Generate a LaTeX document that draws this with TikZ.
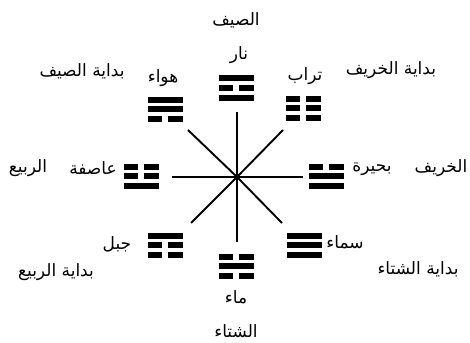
\documentclass[tikz,border=0pt]{standalone}
\usepackage{fontspec}
\newfontfamily\arabicfont[Script=Arabic]{DejaVu Sans}
\TeXXeTstate=1
\newcommand\tgbar[2]{%
  \ifnum#1=1
    \fill (-17.5,#2) rectangle (17.5,#2+6);
  \else
    \fill (-17.5,#2) rectangle (-3,#2+6);
    \fill (3,#2) rectangle (17.5,#2+6);
  \fi}
\tikzset{
  pics/trigram/.style n args={3}{code={
    \tgbar{#1}{-12.5}
    \tgbar{#2}{-3}
    \tgbar{#3}{6.5}
    \coordinate (-c) at (0,0);
  }},
  lbl/.style={inner sep=0pt, font=\arabicfont\fontsize{17}{19}\selectfont},
  ray/.style={line width=1.9pt, draw=black}
}
\begin{document}
\begin{tikzpicture}[x=1pt,y=-1pt]
\useasboundingbox (0,0) rectangle (470,342);
\fill[white] (0,0) rectangle (470,342);
% rays
\coordinate (o) at (237,177);
\coordinate (n) at (237,112);
\coordinate (s) at (237,242);
\coordinate (w) at (172,177);
\coordinate (e) at (303,177);
\coordinate (nw) at (188,130);
\coordinate (ne) at (283,130);
\coordinate (sw) at (191,223);
\coordinate (se) at (282,223);
\foreach \p in {n,s,w,e,nw,ne,sw,se} \draw[ray] (o) -- (\p);
% trigrams (1 solid, 0 broken; top to bottom)
\pic (fire) at (236,88) {trigram={1}{0}{1}};
\pic (wind) at (165,109) {trigram={1}{1}{0}};
\pic (earth) at (303,108) {trigram={0}{0}{0}};
\pic (thunder) at (141,176) {trigram={0}{0}{1}};
\pic (lake) at (326,176) {trigram={0}{1}{1}};
\pic (mountain) at (165,245) {trigram={1}{0}{0}};
\pic (heaven) at (304,245) {trigram={1}{1}{1}};
\pic (water) at (236,266) {trigram={0}{1}{0}};
% labels
\node[lbl] (summer) at (236,20) {\beginR الصيف\endR};
\node[lbl] (fireL) at (239,55) {\beginR نار\endR};
\node[lbl] (bsummer) at (82,71) {\beginR بداية الصيف\endR};
\node[lbl] (windL) at (163,78) {\beginR هواء\endR};
\node[lbl] (earthL) at (305,76) {\beginR تراب\endR};
\node[lbl] (bautumn) at (391,70) {\beginR بداية الخريف\endR};
\node[lbl] (thunderL) at (93,168) {\beginR عاصفة\endR};
\node[lbl] (spring) at (28,168) {\beginR الربيع\endR};
\node[lbl] (lakeL) at (372,169) {\beginR بحيرة\endR};
\node[lbl] (autumn) at (441,168) {\beginR الخريف\endR};
\node[lbl] (mountainL) at (117,244) {\beginR جبل\endR};
\node[lbl] (bspring) at (56,272) {\beginR بداية الربيع\endR};
\node[lbl] (heavenL) at (345,242) {\beginR سماء\endR};
\node[lbl] (bwinter) at (418,269) {\beginR بداية الشتاء\endR};
\node[lbl] (waterL) at (236,297) {\beginR ماء\endR};
\node[lbl] (winter) at (236,331) {\beginR الشتاء\endR};
\end{tikzpicture}
\end{document}
